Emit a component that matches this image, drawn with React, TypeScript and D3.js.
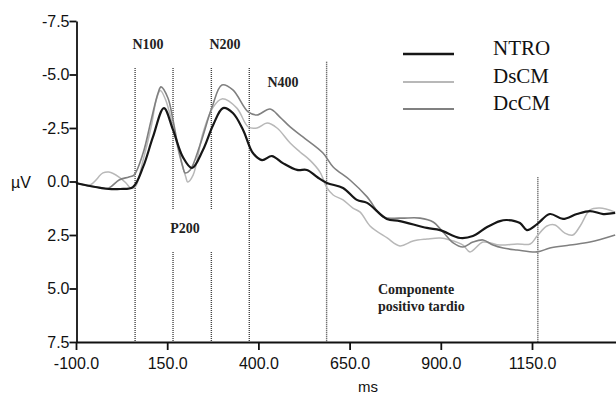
import React, { useEffect, useRef } from "react";
import * as d3 from "d3";

// ms, µV (negative plotted upward)
const ntro: [number, number][] = [
  [-100, 0.07], [-62, 0.21], [-10, 0.35], [21, 0.35], [56, 0.26], [84, -0.68],
  [111, -2.08], [141, -3.43], [166, -2.41], [193, -1.14], [218, -0.63],
  [248, -1.47], [276, -2.64], [303, -3.43], [330, -3.2], [358, -2.41],
  [385, -1.33], [410, -1.0], [437, -1.19], [467, -0.86], [506, -0.54],
  [533, -0.54], [561, -0.21], [588, 0.07], [632, 0.3], [670, 0.86],
  [698, 1.0], [752, 1.75], [788, 1.85], [862, 2.17], [898, 2.27],
  [953, 2.64], [988, 2.55], [1027, 2.13], [1062, 1.85], [1081, 1.8],
  [1117, 1.94], [1136, 2.27], [1164, 1.99], [1199, 1.52], [1235, 1.75],
  [1273, 1.52], [1309, 1.38], [1345, 1.52], [1378, 1.47],
];

const dscm: [number, number][] = [
  [-100, 0.07], [-62, 0.16], [-26, -0.4], [-10, -0.44], [18, -0.21],
  [37, 0.07], [50, 0.3], [62, 0.26], [84, -1.0], [106, -2.55], [120, -3.81],
  [131, -4.25], [145, -3.85], [166, -2.55], [182, -1.33], [201, -0.21],
  [206, 0.02], [221, -0.3], [248, -2.27], [276, -3.48], [300, -3.86],
  [341, -3.43], [372, -2.55], [396, -2.5], [424, -2.73], [451, -2.5],
  [487, -1.8], [514, -1.38], [541, -1.0], [569, -0.44], [588, 0.3],
  [605, 0.63], [632, 0.86], [659, 1.24], [679, 1.43], [706, 2.08],
  [753, 2.64], [788, 3.01], [824, 2.78], [862, 2.69], [898, 2.64],
  [925, 2.73], [961, 2.97], [980, 3.29], [1016, 2.83], [1062, 2.97],
  [1109, 2.92], [1145, 2.92], [1164, 2.55], [1191, 2.08], [1213, 2.03],
  [1240, 2.41], [1262, 2.5], [1282, 2.08], [1309, 1.33], [1336, 1.24],
  [1378, 1.43],
];

const dccm: [number, number][] = [
  [-100, 0.07], [-45, 0.26], [-10, 0.3], [18, -0.07], [45, -0.21], [59, -0.3],
  [84, -1.33], [106, -2.87], [125, -4.14], [133, -4.42], [152, -3.9],
  [166, -2.87], [180, -1.61], [193, -0.68], [199, -0.4], [213, -0.54],
  [240, -1.71], [273, -3.48], [300, -4.51], [330, -4.28], [372, -3.25],
  [396, -3.11], [432, -3.39], [459, -3.01], [487, -2.55], [522, -2.08],
  [577, -1.33], [605, -0.68], [651, -0.07], [698, 0.72], [742, 1.66],
  [788, 1.71], [843, 1.71], [879, 1.89], [906, 2.36], [934, 2.87],
  [961, 3.06], [988, 2.83], [1016, 2.73], [1043, 2.97], [1071, 3.11],
  [1109, 3.2], [1164, 3.29], [1199, 3.11], [1254, 2.97], [1309, 2.83],
  [1378, 2.5],
];

const seriesNames = ["NTRO", "DsCM", "DcCM"];
const seriesColors = ["#161616", "#b8b8b8", "#808080"];
const seriesWidths = [2.2, 1.5, 1.6];

const xTicks = [-100, 150, 400, 650, 900, 1150];
const yTicks = [-7.5, -5, -2.5, 0, 2.5, 5, 7.5];

// component markers: time, top µV, gap [from, to] in µV or null
const markers: [number, number, [number, number] | null][] = [
  [62, -5.3, null],
  [166, -5.3, [1.33, 3.3]],
  [271, -5.3, [1.33, 3.3]],
  [375, -5.3, null],
  [587, -5.6, null],
  [1166, -0.2, null],
];

const labels: [string, number, number, string][] = [
  ["N100", 148, 49, "middle"],
  ["N200", 225, 49, "middle"],
  ["N400", 283, 87, "middle"],
  ["P200", 185, 233, "middle"],
  ["Componente", 378, 294, "start"],
  ["positivo tardio", 378, 311, "start"],
];

export default function App() {
  const ref = useRef<SVGSVGElement>(null);

  useEffect(() => {
    const svg = d3.select(ref.current);
    svg.selectAll("*").remove();

    const x = d3.scaleLinear().domain([-100, 1400]).range([76, 623.2]);
    const y = d3.scaleLinear().domain([-7.5, 7.5]).range([21, 342]);
    const sans = "'Liberation Sans', Arial, sans-serif";
    const serif = "'Liberation Serif', 'Times New Roman', serif";

    // dotted component lines
    markers.forEach(([t, top, gap]) => {
      const segs = gap ? [[top, gap[0]], [gap[1], 7.5]] : [[top, 7.5]];
      segs.forEach(([a, b]) => {
        svg
          .append("line")
          .attr("x1", x(t))
          .attr("x2", x(t))
          .attr("y1", y(a))
          .attr("y2", y(b))
          .attr("stroke", "#444")
          .attr("stroke-width", 1.4)
          .attr("stroke-dasharray", "1,1");
      });
    });

    const line = d3
      .line<[number, number]>()
      .x(d => x(d[0]))
      .y(d => y(d[1]))
      .curve(d3.curveCatmullRom.alpha(0.5));

    [dscm, dccm, ntro].forEach((data, k) => {
      const i = [1, 2, 0][k];
      svg
        .append("path")
        .datum(data)
        .attr("fill", "none")
        .attr("stroke", seriesColors[i])
        .attr("stroke-width", seriesWidths[i])
        .attr("stroke-linejoin", "round")
        .attr("d", line);
    });

    // axes
    const xAxis = svg
      .append("g")
      .attr("transform", "translate(0,342)")
      .call(
        d3
          .axisBottom(x)
          .tickValues(xTicks)
          .tickSize(8)
          .tickSizeOuter(0)
          .tickFormat(d => (d as number).toFixed(1))
      );
    xAxis.select(".domain").attr("stroke", "#111").attr("stroke-width", 1.8);
    xAxis.selectAll(".tick line").attr("stroke", "#111").attr("stroke-width", 1.8);
    xAxis
      .selectAll(".tick text")
      .attr("font-family", sans)
      .attr("font-size", 16)
      .attr("fill", "#111")
      .attr("dy", "0.95em")
      .attr("y", 12);

    const yAxis = svg
      .append("g")
      .attr("transform", "translate(76.5,0)")
      .call(
        d3
          .axisLeft(y)
          .tickValues(yTicks)
          .tickSize(7)
          .tickSizeOuter(0)
          .tickFormat(d => (d as number).toFixed(1))
      );
    yAxis.select(".domain").attr("stroke", "#111").attr("stroke-width", 1.8);
    yAxis.selectAll(".tick line").attr("stroke", "#111").attr("stroke-width", 1.8);
    yAxis
      .selectAll(".tick text")
      .attr("font-family", sans)
      .attr("font-size", 16)
      .attr("fill", "#111")
      .attr("x", -7);

    svg
      .append("text")
      .attr("x", 368)
      .attr("y", 392)
      .attr("text-anchor", "middle")
      .attr("font-family", sans)
      .attr("font-size", 15)
      .attr("fill", "#111")
      .text("ms");
    svg
      .append("text")
      .attr("x", 21)
      .attr("y", 188)
      .attr("text-anchor", "middle")
      .attr("font-family", sans)
      .attr("font-size", 16)
      .attr("fill", "#111")
      .text("µV");

    labels.forEach(([txt, lx, ly, anchor]) => {
      svg
        .append("text")
        .attr("x", lx)
        .attr("y", ly)
        .attr("text-anchor", anchor)
        .attr("font-family", serif)
        .attr("font-size", 14)
        .attr("font-weight", "bold")
        .attr("fill", "#222")
        .text(txt);
    });

    // legend
    const lg = svg.append("g");
    seriesNames.forEach((name, i) => {
      const ly = [54, 82, 109][i];
      lg.append("line")
        .attr("x1", 403)
        .attr("x2", 454)
        .attr("y1", ly)
        .attr("y2", ly)
        .attr("stroke", seriesColors[i])
        .attr("stroke-width", seriesWidths[i] + 0.3);
      lg.append("text")
        .attr("x", 493)
        .attr("y", ly + 1)
        .attr("font-family", serif)
        .attr("font-size", 21)
        .attr("fill", "#111")
        .text(name);
    });
  }, []);

  return (
    <svg
      ref={ref}
      width={616}
      height={395}
      style={{ position: "absolute", left: 0, top: 0, background: "#fff" }}
    />
  );
}
